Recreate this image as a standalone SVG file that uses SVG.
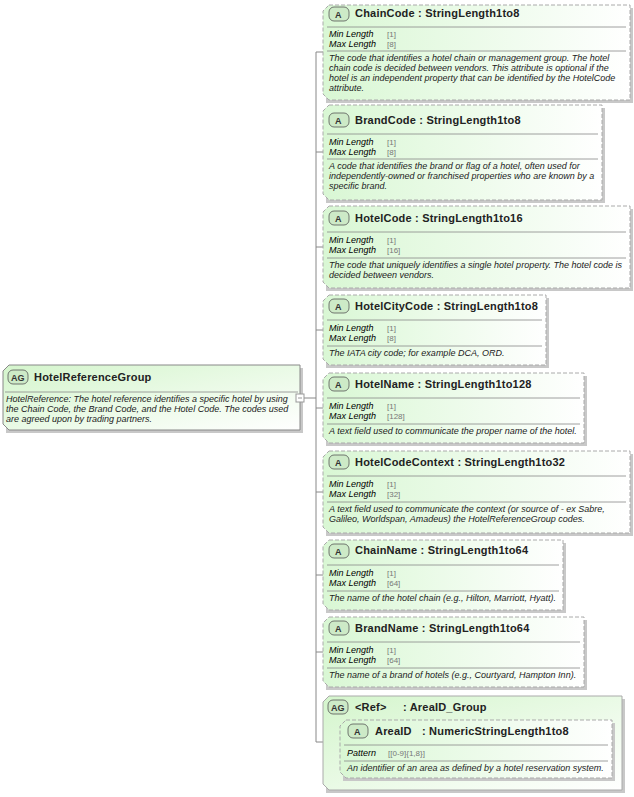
<svg xmlns="http://www.w3.org/2000/svg" width="634" height="797" viewBox="0 0 634 797">
<defs>
<linearGradient id="g" x1="0" y1="0" x2="1" y2="0"><stop offset="0" stop-color="#d9f7d4"/><stop offset="1" stop-color="#ffffff"/></linearGradient>
<linearGradient id="g2" x1="0" y1="0" x2="1" y2="1"><stop offset="0" stop-color="#d4f5cc"/><stop offset="1" stop-color="#ffffff"/></linearGradient>
</defs>
<style>
text{font-family:"Liberation Sans",Arial,sans-serif;fill:#000}
.t{font-size:11px;font-weight:bold;letter-spacing:0.2px;fill:#222}
.k{font-size:9px;font-style:italic}
.v{font-size:8px;fill:#777}
.d{font-size:9px;font-style:italic;fill:#222}
.box{fill:url(#g);stroke:#aaa;stroke-dasharray:4,2;stroke-width:1}
.sh{fill:#c8c8c8}
.sep{stroke:#888;stroke-width:0.8}
.bd{fill:#cdeac7;stroke:#555;stroke-width:0.8}
.bt{font-size:9px;font-weight:bold;fill:#333}
.ln{stroke:#888;stroke-width:1;fill:none}
</style>
<g id="connectors">
<path class="ln" d="M300,398 H316 M316,52 V742"/>
<path class="ln" d="M316,52H323 M316,152H323 M316,247H323 M316,330H323 M316,408H323 M316,492H323 M316,575H323 M316,652H323 M316,742H323"/>
<path class="ln" d="M323,751H340"/>
</g>
<g id="HotelReferenceGroup">
<rect x="6" y="368" width="297" height="65" class="sh"/>
<path d="M9,365 H300 V430 H9 L3,424 V371 Z" fill="url(#g2)" stroke="#888"/>
<rect x="8" y="370" width="20" height="14" rx="5" class="bd"/>
<text x="11" y="381" class="bt">AG</text>
<text x="34" y="381" class="t">HotelReferenceGroup</text>
<line x1="5" y1="392" x2="298" y2="392" class="sep"/>
<text x="6" y="402" class="d">HotelReference: The hotel reference identifies a specific hotel by using</text>
<text x="6" y="412" class="d">the Chain Code, the Brand Code, and the Hotel Code.  The codes used</text>
<text x="6" y="422" class="d">are agreed upon by trading partners.</text>
<rect x="296" y="394" width="8" height="8" fill="#fff" stroke="#999"/>
<line x1="298" y1="398" x2="302" y2="398" stroke="#999"/>
</g>
<g id="ChainCode">
<rect x="326" y="8" width="307" height="95" class="sh"/>
<path d="M329,5 H630 V100 H329 L323,94 V11 Z" class="box"/>
<rect x="329" y="7" width="20" height="14" rx="5" class="bd"/><text x="335" y="18" class="bt">A</text>
<text x="355" y="17" class="t">ChainCode : StringLength1to8</text>
<line x1="327" y1="27" x2="626" y2="27" class="sep"/>
<text x="329" y="37" class="k">Min Length</text><text x="387" y="37" class="v">[1]</text>
<text x="329" y="47" class="k">Max Length</text><text x="387" y="47" class="v">[8]</text>
<line x1="327" y1="51" x2="626" y2="51" class="sep"/>
<text x="329" y="61" class="d">The code that identifies a hotel chain or management group. The hotel</text>
<text x="329" y="71" class="d">chain code is decided between vendors.  This attribute is optional if the</text>
<text x="329" y="81" class="d">hotel is an independent property that can be identified by the HotelCode</text>
<text x="329" y="91" class="d">attribute.</text>
</g>
<g id="BrandCode">
<rect x="326" y="108" width="279" height="95" class="sh"/>
<path d="M329,105 H602 V200 H329 L323,194 V111 Z" class="box"/>
<rect x="329" y="113" width="20" height="14" rx="5" class="bd"/><text x="335" y="124" class="bt">A</text>
<text x="355" y="124" class="t">BrandCode : StringLength1to8</text>
<line x1="327" y1="134" x2="598" y2="134" class="sep"/>
<text x="329" y="145" class="k">Min Length</text><text x="387" y="145" class="v">[1]</text>
<text x="329" y="155" class="k">Max Length</text><text x="387" y="155" class="v">[8]</text>
<line x1="327" y1="159" x2="598" y2="159" class="sep"/>
<text x="329" y="169" class="d">A code that identifies the brand or flag of a hotel, often used for</text>
<text x="329" y="179" class="d">independently-owned or franchised properties who are known by a</text>
<text x="329" y="189" class="d">specific brand.</text>
</g>
<g id="HotelCode">
<rect x="326" y="209" width="307" height="82" class="sh"/>
<path d="M329,206 H630 V288 H329 L323,282 V212 Z" class="box"/>
<rect x="329" y="211" width="20" height="14" rx="5" class="bd"/><text x="335" y="222" class="bt">A</text>
<text x="355" y="222" class="t">HotelCode : StringLength1to16</text>
<line x1="327" y1="232" x2="626" y2="232" class="sep"/>
<text x="329" y="243" class="k">Min Length</text><text x="387" y="243" class="v">[1]</text>
<text x="329" y="253" class="k">Max Length</text><text x="387" y="253" class="v">[16]</text>
<line x1="327" y1="258" x2="626" y2="258" class="sep"/>
<text x="329" y="268" class="d">The code that uniquely identifies a single hotel property. The hotel code is</text>
<text x="329" y="278" class="d">decided between vendors.</text>
</g>
<g id="HotelCityCode">
<rect x="326" y="298" width="223" height="70" class="sh"/>
<path d="M329,295 H546 V365 H329 L323,359 V301 Z" class="box"/>
<rect x="329" y="299" width="20" height="14" rx="5" class="bd"/><text x="335" y="310" class="bt">A</text>
<text x="355" y="310" class="t">HotelCityCode : StringLength1to8</text>
<line x1="327" y1="320" x2="542" y2="320" class="sep"/>
<text x="329" y="331" class="k">Min Length</text><text x="387" y="331" class="v">[1]</text>
<text x="329" y="341" class="k">Max Length</text><text x="387" y="341" class="v">[8]</text>
<line x1="327" y1="346" x2="542" y2="346" class="sep"/>
<text x="329" y="356" class="d">The IATA city code; for example DCA, ORD.</text>
</g>
<g id="HotelName">
<rect x="326" y="376" width="261" height="70" class="sh"/>
<path d="M329,373 H584 V443 H329 L323,437 V379 Z" class="box"/>
<rect x="329" y="377" width="20" height="14" rx="5" class="bd"/><text x="335" y="388" class="bt">A</text>
<text x="355" y="388" class="t">HotelName : StringLength1to128</text>
<line x1="327" y1="398" x2="580" y2="398" class="sep"/>
<text x="329" y="409" class="k">Min Length</text><text x="387" y="409" class="v">[1]</text>
<text x="329" y="419" class="k">Max Length</text><text x="387" y="419" class="v">[128]</text>
<line x1="327" y1="424" x2="580" y2="424" class="sep"/>
<text x="329" y="434" class="d">A text field used to communicate the proper name of the hotel.</text>
</g>
<g id="HotelCodeContext">
<rect x="326" y="454" width="307" height="82" class="sh"/>
<path d="M329,451 H630 V533 H329 L323,527 V457 Z" class="box"/>
<rect x="329" y="455" width="20" height="14" rx="5" class="bd"/><text x="335" y="466" class="bt">A</text>
<text x="355" y="466" class="t">HotelCodeContext : StringLength1to32</text>
<line x1="327" y1="476" x2="626" y2="476" class="sep"/>
<text x="329" y="487" class="k">Min Length</text><text x="387" y="487" class="v">[1]</text>
<text x="329" y="497" class="k">Max Length</text><text x="387" y="497" class="v">[32]</text>
<line x1="327" y1="502" x2="626" y2="502" class="sep"/>
<text x="329" y="512" class="d">A text field used to communicate the context (or source of - ex Sabre,</text>
<text x="329" y="522" class="d">Galileo, Worldspan, Amadeus) the HotelReferenceGroup codes.</text>
</g>
<g id="ChainName">
<rect x="326" y="543" width="240" height="70" class="sh"/>
<path d="M329,540 H563 V610 H329 L323,604 V546 Z" class="box"/>
<rect x="329" y="544" width="20" height="14" rx="5" class="bd"/><text x="335" y="555" class="bt">A</text>
<text x="355" y="554" class="t">ChainName : StringLength1to64</text>
<line x1="327" y1="565" x2="559" y2="565" class="sep"/>
<text x="329" y="576" class="k">Min Length</text><text x="387" y="576" class="v">[1]</text>
<text x="329" y="586" class="k">Max Length</text><text x="387" y="586" class="v">[64]</text>
<line x1="327" y1="591" x2="559" y2="591" class="sep"/>
<text x="329" y="601" class="d">The name of the hotel chain (e.g., Hilton, Marriott, Hyatt).</text>
</g>
<g id="BrandName">
<rect x="326" y="620" width="261" height="70" class="sh"/>
<path d="M329,617 H584 V687 H329 L323,681 V623 Z" class="box"/>
<rect x="329" y="621" width="20" height="14" rx="5" class="bd"/><text x="335" y="632" class="bt">A</text>
<text x="355" y="632" class="t">BrandName : StringLength1to64</text>
<line x1="327" y1="642" x2="580" y2="642" class="sep"/>
<text x="329" y="653" class="k">Min Length</text><text x="387" y="653" class="v">[1]</text>
<text x="329" y="663" class="k">Max Length</text><text x="387" y="663" class="v">[64]</text>
<line x1="327" y1="668" x2="580" y2="668" class="sep"/>
<text x="329" y="678" class="d">The name of a brand of hotels (e.g., Courtyard, Hampton Inn).</text>
</g>
<g id="AreaID_Group">
<rect x="326" y="699" width="299" height="94" class="sh"/>
<path d="M329,696 H622 V790 H329 L323,784 V702 Z" fill="url(#g2)" stroke="#aaa"/>
<rect x="328" y="700" width="20" height="14" rx="5" class="bd"/><text x="331" y="711" class="bt">AG</text>
<text x="355" y="711" class="t">&lt;Ref&gt;</text><text x="403" y="711" class="t">: AreaID_Group</text>
<g id="AreaID">
<rect x="343" y="723" width="272" height="58" class="sh"/>
<path d="M346,720 H612 V778 H346 L340,772 V726 Z" class="box"/>
<rect x="348" y="724" width="20" height="14" rx="5" class="bd"/><text x="354" y="735" class="bt">A</text>
<text x="375" y="735" class="t">AreaID</text><text x="422" y="735" class="t">: NumericStringLength1to8</text>
<line x1="344" y1="745" x2="608" y2="745" class="sep"/>
<text x="347" y="756" class="k">Pattern</text><text x="388" y="756" class="v">[[0-9]{1,8}]</text>
<line x1="344" y1="761" x2="608" y2="761" class="sep"/>
<text x="347" y="771" class="d">An identifier of an area as defined by a hotel reservation system.</text>
</g>
</g>
</svg>
